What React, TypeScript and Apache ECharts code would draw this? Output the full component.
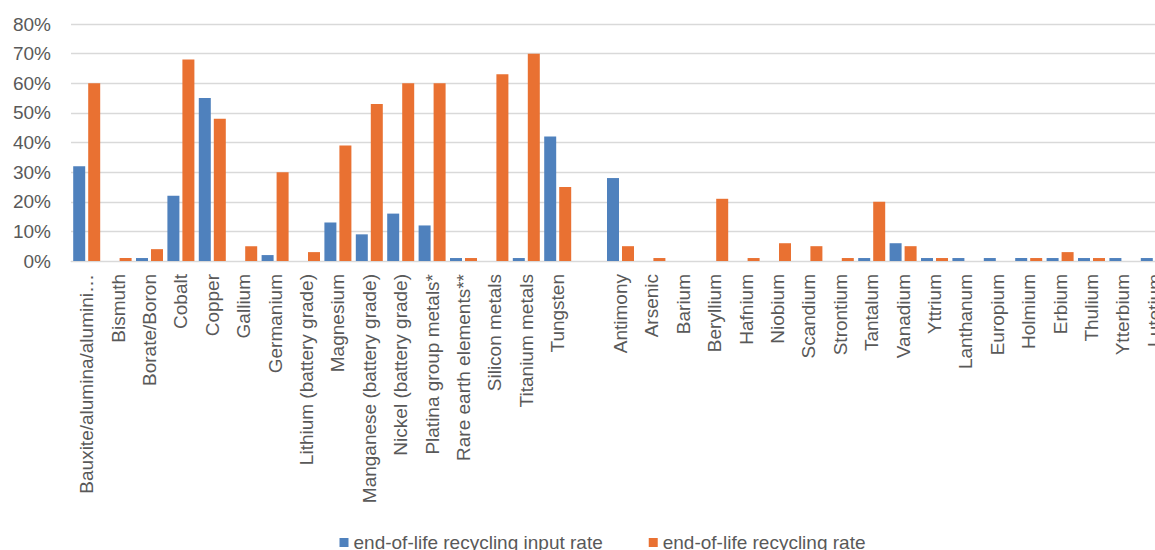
import React, { useEffect, useRef } from "react";
import * as echarts from "echarts";

// Materials on the category axis; the empty entry separates the two groups.
const materials: string[] = [
  "Bauxite/alumina/alumini…",
  "Bismuth",
  "Borate/Boron",
  "Cobalt",
  "Copper",
  "Gallium",
  "Germanium",
  "Lithium (battery grade)",
  "Magnesium",
  "Manganese (battery grade)",
  "Nickel (battery grade)",
  "Platina group metals*",
  "Rare earth elements**",
  "Silicon metals",
  "Titanium metals",
  "Tungsten",
  "",
  "Antimony",
  "Arsenic",
  "Barium",
  "Beryllium",
  "Hafnium",
  "Niobium",
  "Scandium",
  "Strontium",
  "Tantalum",
  "Vanadium",
  "Yttrium",
  "Lanthanum",
  "Europium",
  "Holmium",
  "Erbium",
  "Thulium",
  "Ytterbium",
  "Lutetium",
];

// End-of-life recycling input rate, in percent
const inputRate: (number | null)[] = [
  32, 0, 1, 22, 55, 0, 2, 0, 13, 9, 16, 12, 1, 0, 1, 42,
  null,
  28, 0, 0, 0, 0, 0, 0, 0, 1, 6, 1, 1, 1, 1, 1, 1, 1, 1,
];

// End-of-life recycling rate, in percent
const recyclingRate: (number | null)[] = [
  60, 1, 4, 68, 48, 5, 30, 3, 39, 53, 60, 60, 1, 63, 70, 25,
  null,
  5, 1, 0, 21, 1, 6, 5, 1, 20, 5, 1, 0, 0, 1, 3, 1, 0, 0,
];

const seriesNames = ["end-of-life recycling input rate", "end-of-life recycling rate"];
const seriesColors = ["#4F81BD", "#E97132"];

const FONT = "'Liberation Sans', Arial, sans-serif";
const TEXT_COLOR = "#595959";

export default function App() {
  const ref = useRef<HTMLDivElement>(null);

  useEffect(() => {
    if (!ref.current) return;
    const chart = echarts.init(ref.current, undefined, { renderer: "svg" });
    chart.setOption({
      animation: false,
      backgroundColor: "#ffffff",
      textStyle: { fontFamily: FONT },
      grid: { left: 71, top: 24, width: 1099, height: 237 },
      legend: {
        data: seriesNames,
        left: "center",
        top: 528,
        icon: "rect",
        itemWidth: 9,
        itemHeight: 9,
        itemGap: 46,
        textStyle: { fontSize: 19, color: TEXT_COLOR, fontFamily: FONT },
      },
      xAxis: {
        type: "category",
        data: materials,
        axisTick: { show: false },
        axisLine: { lineStyle: { color: "#d9d9d9", width: 1 } },
        axisLabel: {
          interval: 0,
          rotate: 90,
          margin: 13,
          fontSize: 19,
          color: TEXT_COLOR,
          fontFamily: FONT,
        },
      },
      yAxis: {
        type: "value",
        min: 0,
        max: 80,
        interval: 10,
        axisLine: { show: false },
        axisTick: { show: false },
        axisLabel: {
          formatter: "{value}%",
          fontSize: 19,
          color: TEXT_COLOR,
          margin: 20,
          fontFamily: FONT,
        },
        splitLine: { lineStyle: { color: "#d9d9d9", width: 1.3 } },
      },
      series: [
        {
          name: seriesNames[0],
          type: "bar",
          data: inputRate,
          barWidth: 12,
          barGap: "25%",
          itemStyle: { color: seriesColors[0] },
        },
        {
          name: seriesNames[1],
          type: "bar",
          data: recyclingRate,
          barWidth: 12,
          barGap: "25%",
          itemStyle: { color: seriesColors[1] },
        },
      ],
    });
    return () => chart.dispose();
  }, []);

  return (
    <div
      style={{
        position: "fixed",
        left: 0,
        top: 0,
        width: 1155,
        height: 550,
        overflow: "hidden",
        background: "#fff",
      }}
    >
      <div ref={ref} style={{ width: 1205, height: 560 }} />
    </div>
  );
}
